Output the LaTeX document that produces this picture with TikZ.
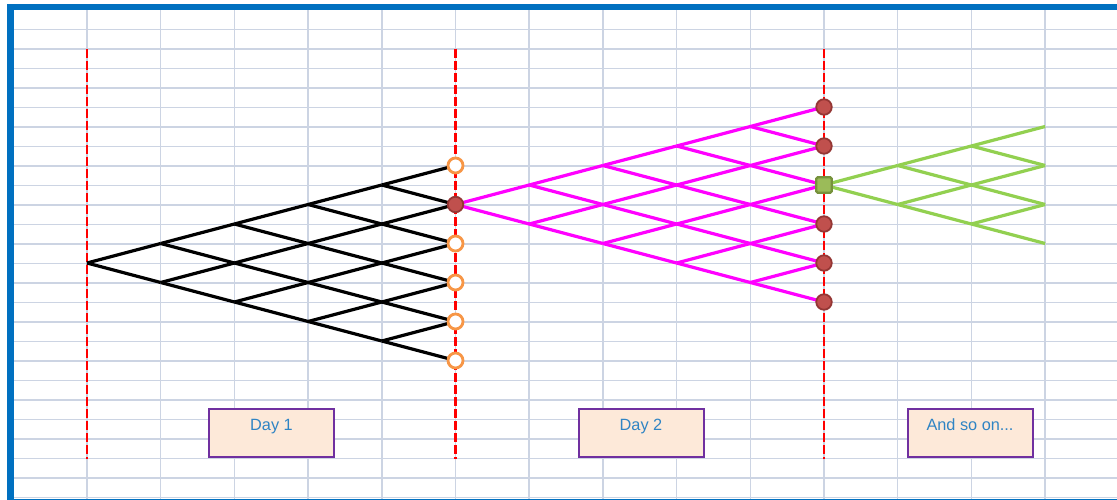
\documentclass[tikz,border=0pt]{standalone}
\usepackage{fontspec}
\setmainfont{Liberation Sans}
\definecolor{gridc}{HTML}{CCD4E3}
\definecolor{bluebd}{HTML}{0070C0}
\definecolor{dashred}{HTML}{FF0000}
\definecolor{magline}{HTML}{FF00FF}
\definecolor{greenline}{HTML}{92D050}
\definecolor{drfill}{HTML}{C0504D}
\definecolor{drdraw}{HTML}{943634}
\definecolor{orng}{HTML}{F79646}
\definecolor{sqfill}{HTML}{9BBB59}
\definecolor{sqdraw}{HTML}{76923C}
\definecolor{boxfill}{HTML}{FDE9D9}
\definecolor{boxdraw}{HTML}{7030A0}
\definecolor{boxtxt}{HTML}{2F84C4}
\begin{document}
\begin{tikzpicture}[x=1pt,y=-1pt,
  gridline/.style={draw=gridc,line width=1.8pt},
  daysep/.style={draw=dashred,line width=2.8pt,dash pattern=on 9pt off 3pt},
  blackedge/.style={draw=black,line width=3.2pt},
  magedge/.style={draw=magline,line width=3.2pt},
  greenedge/.style={draw=greenline,line width=3.2pt},
  hollowdot/.style={circle,draw=orng,fill=white,line width=2.8pt,minimum size=15pt,inner sep=0pt},
  reddot/.style={circle,draw=drdraw,fill=drfill,line width=1.8pt,minimum size=15.5pt,inner sep=0pt},
  greensq/.style={rectangle,rounded corners=1.5pt,draw=sqdraw,fill=sqfill,line width=2.2pt,minimum size=15.5pt,inner sep=0pt},
  daybox/.style={rectangle,draw=boxdraw,fill=boxfill,line width=2pt,minimum width=125pt,minimum height=48pt,inner sep=0pt},
  daytext/.style={text=boxtxt,font=\fontsize{16.3}{19}\selectfont,inner sep=0pt,anchor=base}
]
\useasboundingbox (0,0) rectangle (1117,500);
\fill[white] (0,0) rectangle (1117,500);
% grid
\foreach \k in {0,...,24} {
  \draw[gridline] (13,{29.5+19.5*\k}) -- (1117,{29.5+19.5*\k});
}
\foreach \k in {0,...,13} {
  \draw[gridline,line width=1.5pt] ({87+73.7*\k},10) -- ({87+73.7*\k},500);
}
% blue frame
\fill[bluebd] (7,4) rectangle (13.5,500);
\fill[bluebd] (7,4) rectangle (1117,10);
\fill[bluebd] (7,498.8) rectangle (1117,500);
% day separators
\foreach \c/\n in {0/sepa,5/sepb,10/sepc} {
  \coordinate (\n-top) at ({87+73.7*\c},49);
  \coordinate (\n-bot) at ({87+73.7*\c},459);
  \draw[daysep] (\n-top) -- (\n-bot);
}
% lattice coordinates
\foreach \i in {0,...,5} {
  \foreach \j in {0,...,\i} {
    \coordinate (k-\i-\j) at ({87+73.7*\i},{263+19.5*(2*\j-\i)});
    \coordinate (m-\i-\j) at ({87+73.7*(5+\i)},{204.5+19.5*(2*\j-\i)});
  }
}
\foreach \i in {0,...,3} {
  \foreach \j in {0,...,\i} {
    \coordinate (g-\i-\j) at ({87+73.7*(10+\i)},{185+19.5*(2*\j-\i)});
  }
}
% edges
\foreach \i in {0,...,4} {
  \foreach \j in {0,...,\i} {
    \pgfmathtruncatemacro\ni{\i+1}
    \pgfmathtruncatemacro\nj{\j+1}
    \draw[blackedge] (k-\i-\j) -- (k-\ni-\j);
    \draw[blackedge] (k-\i-\j) -- (k-\ni-\nj);
    \draw[magedge] (m-\i-\j) -- (m-\ni-\j);
    \draw[magedge] (m-\i-\j) -- (m-\ni-\nj);
  }
}
\foreach \i in {0,...,2} {
  \foreach \j in {0,...,\i} {
    \pgfmathtruncatemacro\ni{\i+1}
    \pgfmathtruncatemacro\nj{\j+1}
    \draw[greenedge] (g-\i-\j) -- (g-\ni-\j);
    \draw[greenedge] (g-\i-\j) -- (g-\ni-\nj);
  }
}
% markers
\foreach \j in {0,2,3,4,5} {
  \node[hollowdot] (end1-\j) at (k-5-\j) {};
}
\node[reddot] (end1-1) at (k-5-1) {};
\foreach \j in {0,1,3,4,5} {
  \node[reddot] (end2-\j) at (m-5-\j) {};
}
\node[greensq] (end2-2) at (m-5-2) {};
% boxes
\node[daybox] (box1) at (271.5,432.6) {};
\node[daybox] (box2) at (641,432.6) {};
\node[daybox] (box3) at (970,432.6) {};
\path (box1.center) ++(0,-2) node[daytext] (t1) {Day 1};
\path (box2.center) ++(0,-2) node[daytext] (t2) {Day 2};
\path (box3.center) ++(0,-2) node[daytext] (t3) {And so on...};
\end{tikzpicture}
\end{document}
